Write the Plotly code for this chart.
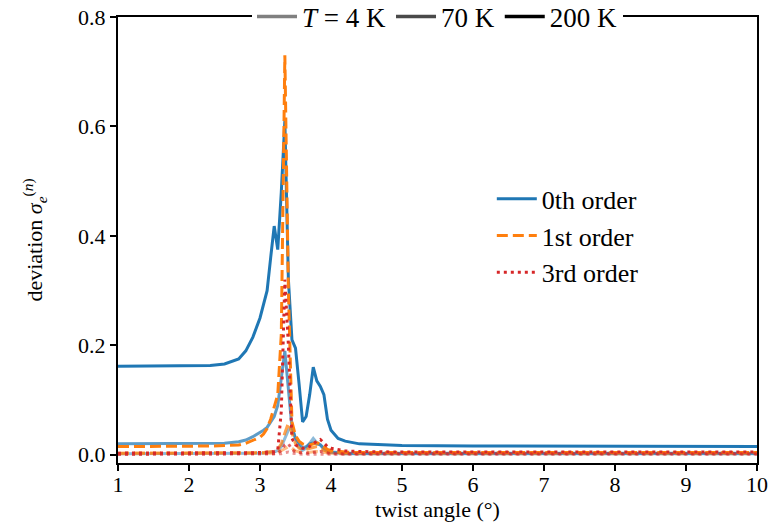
import plotly.graph_objects as go

# twist angle grid (degrees)
angle = [1.0, 1.5, 2.0, 2.3, 2.5, 2.7, 2.8, 2.9, 3.0, 3.05, 3.1, 3.15, 3.2, 3.25,
         3.3, 3.35, 3.4, 3.45, 3.5, 3.55, 3.6, 3.65, 3.7, 3.75, 3.8, 3.85, 3.9,
         3.95, 4.0, 4.1, 4.2, 4.4, 4.7, 5.0, 6.0, 7.0, 8.0, 9.0, 10.0]

# 0th order
zeroth_200K = [0.162, 0.162, 0.162, 0.163, 0.166, 0.175, 0.19, 0.215, 0.25, 0.275, 0.30, 0.36,
               0.418, 0.375, 0.48, 0.61, 0.32, 0.21, 0.195, 0.13, 0.06, 0.07, 0.11, 0.16,
               0.135, 0.125, 0.11, 0.065, 0.045, 0.03, 0.025, 0.02, 0.018, 0.017, 0.016,
               0.016, 0.016, 0.015, 0.015]
zeroth_70K = [0.020, 0.020, 0.020, 0.020, 0.021, 0.024, 0.027, 0.033, 0.040, 0.045, 0.050, 0.060,
              0.070, 0.090, 0.140, 0.190, 0.120, 0.050, 0.030, 0.020, 0.012, 0.015, 0.020, 0.022,
              0.020, 0.018, 0.012, 0.008, 0.005, 0.004, 0.003, 0.003, 0.003, 0.003, 0.003,
              0.003, 0.003, 0.003, 0.003]
zeroth_4K = [0.002, 0.002, 0.002, 0.002, 0.002, 0.002, 0.002, 0.003, 0.003, 0.003, 0.004, 0.004,
             0.005, 0.008, 0.015, 0.030, 0.045, 0.051, 0.030, 0.015, 0.008, 0.012, 0.020, 0.030,
             0.022, 0.018, 0.010, 0.006, 0.004, 0.003, 0.002, 0.002, 0.002, 0.002, 0.002,
             0.002, 0.002, 0.002, 0.002]

# 1st order
first_200K = [0.015, 0.015, 0.015, 0.016, 0.017, 0.018, 0.021, 0.026, 0.032, 0.038, 0.048, 0.065,
              0.090, 0.110, 0.220, 0.730, 0.300, 0.060, 0.035, 0.025, 0.020, 0.018, 0.018, 0.020,
              0.022, 0.020, 0.015, 0.010, 0.008, 0.006, 0.005, 0.004, 0.004, 0.004, 0.004,
              0.004, 0.004, 0.004, 0.004]
first_70K = [0.003, 0.003, 0.003, 0.003, 0.003, 0.003, 0.003, 0.003, 0.004, 0.004, 0.005, 0.005,
             0.006, 0.010, 0.020, 0.040, 0.058, 0.040, 0.020, 0.012, 0.010, 0.010, 0.012, 0.014,
             0.015, 0.012, 0.008, 0.006, 0.005, 0.004, 0.004, 0.004, 0.004, 0.004, 0.004,
             0.004, 0.004, 0.004, 0.004]
first_4K = [0.002, 0.002, 0.002, 0.002, 0.002, 0.002, 0.002, 0.002, 0.002, 0.002, 0.002, 0.003,
            0.003, 0.004, 0.007, 0.011, 0.015, 0.012, 0.007, 0.005, 0.004, 0.004, 0.005, 0.006,
            0.006, 0.005, 0.004, 0.003, 0.003, 0.002, 0.002, 0.002, 0.002, 0.002, 0.002,
            0.002, 0.002, 0.002, 0.002]

# 3rd order
third_200K = [0.003, 0.003, 0.003, 0.003, 0.003, 0.003, 0.003, 0.004, 0.004, 0.004, 0.005, 0.005,
              0.006, 0.008, 0.080, 0.320, 0.200, 0.030, 0.018, 0.015, 0.012, 0.012, 0.015, 0.020,
              0.025, 0.028, 0.022, 0.015, 0.012, 0.009, 0.007, 0.006, 0.005, 0.005, 0.005,
              0.005, 0.005, 0.005, 0.005]
third_70K = [0.001, 0.001, 0.001, 0.001, 0.001, 0.001, 0.001, 0.001, 0.001, 0.001, 0.001, 0.001,
             0.002, 0.003, 0.008, 0.018, 0.020, 0.010, 0.005, 0.004, 0.003, 0.003, 0.004, 0.005,
             0.006, 0.006, 0.005, 0.003, 0.002, 0.002, 0.002, 0.002, 0.002, 0.002, 0.002,
             0.002, 0.002, 0.002, 0.002]
third_4K = [0.001] * 12 + [0.001, 0.001, 0.002, 0.004, 0.005, 0.003, 0.002, 0.001, 0.001, 0.001,
                           0.001, 0.002, 0.002, 0.002, 0.001, 0.001, 0.001] + [0.001] * 10

order_labels = ["0th order", "1st order", "3rd order"]
temp_labels = ["<i>T</i> = 4 K", "70 K", "200 K"]

BLUE, ORANGE, RED = "#1f77b4", "#ff7f0e", "#d62728"
FONT = "Liberation Serif"
DASH, DOT = "11px,5px", "3px,4px"

fig = go.Figure()

series = [
    (zeroth_4K, BLUE, "solid", 0.5), (zeroth_70K, BLUE, "solid", 0.72), (zeroth_200K, BLUE, "solid", 1.0),
    (first_4K, ORANGE, DASH, 0.5), (first_70K, ORANGE, DASH, 0.72), (first_200K, ORANGE, DASH, 1.0),
    (third_4K, RED, DOT, 0.5), (third_70K, RED, DOT, 0.72), (third_200K, RED, DOT, 1.0),
]
for ys, col, dash, op in series:
    fig.add_trace(go.Scatter(x=angle, y=ys, mode="lines", opacity=op,
                             line=dict(color=col, width=3, dash=dash),
                             showlegend=False, hoverinfo="skip"))

# legend for orders
for lab, col, dash in zip(order_labels, [BLUE, ORANGE, RED], ["solid", DASH, DOT]):
    fig.add_trace(go.Scatter(x=[None], y=[None], mode="lines", name=lab,
                             line=dict(color=col, width=3, dash=dash), legend="legend2"))

# legend for temperatures
for lab, col in zip(temp_labels, ["#808080", "#4a4a4a", "#000000"]):
    fig.add_trace(go.Scatter(x=[None], y=[None], mode="lines", name=lab,
                             line=dict(color=col, width=3.5), legend="legend"))

axis_common = dict(showgrid=False, zeroline=False, showline=True, linecolor="black",
                   linewidth=2, mirror=True, ticks="outside", ticklen=6, tickwidth=1.5,
                   tickcolor="black", tickfont=dict(family=FONT, size=22, color="black"))

fig.update_layout(
    width=774, height=525,
    margin=dict(l=118, r=17, t=17, b=62, autoexpand=False),
    plot_bgcolor="white", paper_bgcolor="white",
    font=dict(family=FONT, size=22, color="black"),
    xaxis=dict(range=[1, 10], dtick=1, ticklabelstandoff=-5,
               title=dict(text="twist angle (°)", standoff=0,
                          font=dict(family=FONT, size=22)), **axis_common),
    yaxis=dict(range=[-0.015, 0.8], tickvals=[0, 0.2, 0.4, 0.6, 0.8], tickformat=".1f",
               ticklabeloverflow="allow",
               title=dict(text="deviation <i>σ</i><sub><i>e</i></sub><sup>(<i>n</i>)</sup>",
                          standoff=29, font=dict(family=FONT, size=22)), **axis_common),
    legend=dict(orientation="h", x=0.5, xanchor="center", y=1.0, yanchor="middle",
                bgcolor="white", borderwidth=0, font=dict(family=FONT, size=27),
                itemwidth=40, tracegroupgap=0),
    legend2=dict(x=0.585, xanchor="left", y=0.645, yanchor="top", bgcolor="rgba(0,0,0,0)",
                 borderwidth=0, font=dict(family=FONT, size=26), itemwidth=40),
)

# remove the default page margin so the figure sits at the window's top-left corner
fig.write_html("out.html", config={"displayModeBar": False},
               post_script="document.body.style.margin='0';")
